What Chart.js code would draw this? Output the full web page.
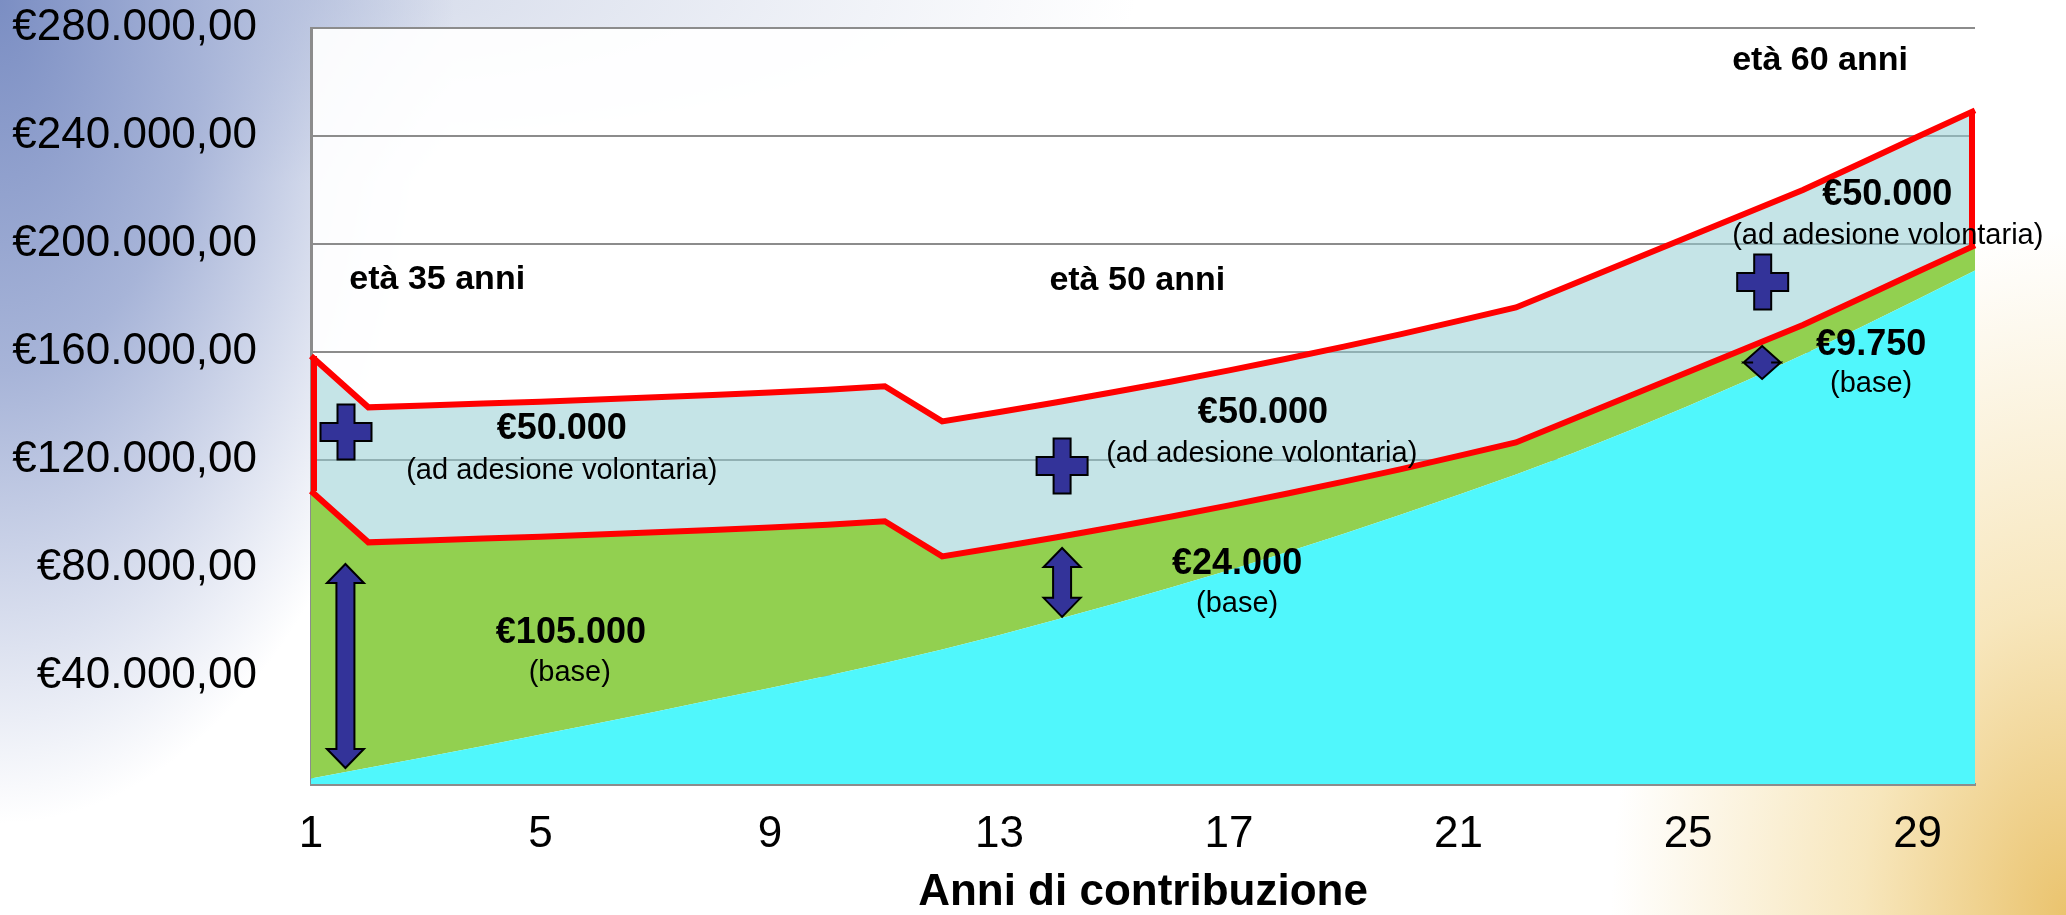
<!DOCTYPE html>
<html lang="it">
<head>
<meta charset="utf-8">
<title>Anni di contribuzione</title>
<script src="https://cdn.jsdelivr.net/npm/chart.js@4.4.1/dist/chart.umd.min.js"></script>
<style>
  html, body { margin: 0; padding: 0; }
  body {
    width: 2066px;
    height: 915px;
    overflow: hidden;
    background:
      radial-gradient(ellipse 22% 75% at 100% 100%, rgba(233,192,102,0.95) 0%, rgba(244,220,160,0.7) 45%, rgba(255,255,255,0) 100%),
      radial-gradient(ellipse 22% 90% at 0% 0%, #7b8ec3 0%, #a7b4d8 45%, rgba(255,255,255,0) 100%),
      radial-gradient(ellipse 40% 20% at 15% 0%, rgba(200,208,228,0.8) 0%, rgba(255,255,255,0) 100%),
      #ffffff;
  }
  canvas { display: block; }
</style>
</head>
<body>
<canvas id="grafico" width="2066" height="915"></canvas>
<script>
// anni di contribuzione (asse x)
const anni = ['1', '2', '3', '4', '5', '6', '7', '8', '9', '10',
              '11', '12', '13', '14', '15', '16', '17', '18', '19', '20',
              '21', '22', '23', '24', '25', '26', '27', '28', '29', '30'];
const tickAnni = ['1', '5', '9', '13', '17', '21', '25', '29'];

// area azzurra in basso
const capitale = [2000, 6000, 10000, 14100, 18300, 22500, 26800, 31200, 35600, 40100,
                  44800, 49800, 55200, 60900, 66800, 72900, 79200, 85800, 92700, 99800,
                  107100, 114600, 122600, 131100, 140000, 149300, 159000, 169100, 179500, 190200];
// quota base (verde)
const quotaBase = [106500, 83500, 80200, 76800, 73300, 69900, 66400, 62900, 59400, 55900,
                   52500, 34500, 32600, 30500, 28400, 26200, 24000, 21700, 19300, 16800,
                   14400, 11900, 12600, 12800, 12600, 12000, 11000, 10700, 10200, 9300];
// quota ad adesione volontaria
const quotaVolontaria = [50000, 50000, 50000, 50000, 50000, 50000, 50000, 50000, 50000, 50000,
                         50000, 50000, 50000, 50000, 50000, 50000, 50000, 50000, 50000, 50000,
                         50000, 50000, 50000, 50000, 50000, 50000, 50000, 50000, 50000, 50000];

// testi e simboli, in coordinate dei dati (anno, euro)
const note = [
  { testo: 'età 35 anni', anno: 3.2, valore: 186700, tipo: 'eta' },
  { testo: 'età 50 anni', anno: 15.4, valore: 186300, tipo: 'eta' },
  { testo: 'età 60 anni', anno: 27.3, valore: 267800, tipo: 'eta' },
  { testo: '€50.000', anno: 5.37, valore: 131500, tipo: 'importo' },
  { testo: '(ad adesione volontaria)', anno: 5.37, valore: 115900, tipo: 'nota' },
  { testo: '€105.000', anno: 5.53, valore: 55900, tipo: 'importo' },
  { testo: '(base)', anno: 5.51, valore: 41100, tipo: 'nota' },
  { testo: '€50.000', anno: 17.59, valore: 137400, tipo: 'importo' },
  { testo: '(ad adesione volontaria)', anno: 17.57, valore: 122200, tipo: 'nota' },
  { testo: '€24.000', anno: 17.14, valore: 81500, tipo: 'importo' },
  { testo: '(base)', anno: 17.14, valore: 66700, tipo: 'nota' },
  { testo: '€50.000', anno: 28.47, valore: 218100, tipo: 'importo' },
  { testo: '(ad adesione volontaria)', anno: 28.48, valore: 203000, tipo: 'nota' },
  { testo: '€9.750', anno: 28.19, valore: 162600, tipo: 'importo' },
  { testo: '(base)', anno: 28.19, valore: 148100, tipo: 'nota' }
];
const simboli = [
  { tipo: 'piu', anno: 1.61, valore: 130400 },
  { tipo: 'piu', anno: 14.09, valore: 117800 },
  { tipo: 'piu', anno: 26.3, valore: 185900 },
  { tipo: 'freccia', anno: 1.6, da: 81500, a: 5900 },
  { tipo: 'freccia', anno: 14.09, da: 87400, a: 61900 },
  { tipo: 'freccia', anno: 26.29, da: 162200, a: 150000 }
];

const FONT = '"Liberation Sans", Arial, sans-serif';
Chart.defaults.font.family = FONT;

function euro(v) {
  const s = String(Math.round(v)).replace(/\B(?=(\d{3})+(?!\d))/g, '.');
  return '€' + s + ',00';
}

const sfondoArea = {
  id: 'sfondoArea',
  beforeDraw(chart) {
    const { ctx, chartArea: a } = chart;
    ctx.save();
    ctx.fillStyle = 'rgba(255,255,255,0.92)';
    ctx.fillRect(a.left, a.top, a.right - a.left, a.bottom - a.top);
    ctx.restore();
  }
};

const bordiLaterali = {
  id: 'bordiLaterali',
  afterDatasetsDraw(chart) {
    const medio = chart.getDatasetMeta(1).data;
    const alto = chart.getDatasetMeta(2).data;
    const ctx = chart.ctx;
    ctx.save();
    ctx.strokeStyle = '#ff0000';
    ctx.lineWidth = 6;
    [[0, 3], [alto.length - 1, -3]].forEach(([i, dx]) => {
      ctx.beginPath();
      ctx.moveTo(alto[i].x + dx, alto[i].y);
      ctx.lineTo(medio[i].x + dx, medio[i].y);
      ctx.stroke();
    });
    ctx.restore();
  }
};

function disegnaPiu(ctx, cx, cy) {
  const w = 51, h = 55, t = 17, th = 18;
  const p = [
    [-t / 2, -h / 2], [t / 2, -h / 2], [t / 2, -th / 2], [w / 2, -th / 2],
    [w / 2, th / 2], [t / 2, th / 2], [t / 2, h / 2], [-t / 2, h / 2],
    [-t / 2, th / 2], [-w / 2, th / 2], [-w / 2, -th / 2], [-t / 2, -th / 2]
  ];
  ctx.beginPath();
  p.forEach(([dx, dy], i) => i ? ctx.lineTo(cx + dx, cy + dy) : ctx.moveTo(cx + dx, cy + dy));
  ctx.closePath();
  ctx.fill();
  ctx.stroke();
}

function disegnaFreccia(ctx, cx, y1, y2) {
  const sw = 9, hw = 18.5;
  const hh = Math.min(19, (y2 - y1) / 2);
  const p = [
    [cx, y1], [cx + hw, y1 + hh], [cx + sw, y1 + hh], [cx + sw, y2 - hh],
    [cx + hw, y2 - hh], [cx, y2], [cx - hw, y2 - hh], [cx - sw, y2 - hh],
    [cx - sw, y1 + hh], [cx - hw, y1 + hh]
  ];
  ctx.beginPath();
  p.forEach(([x, y], i) => i ? ctx.lineTo(x, y) : ctx.moveTo(x, y));
  ctx.closePath();
  ctx.fill();
  ctx.stroke();
}

const annotazioni = {
  id: 'annotazioni',
  afterDatasetsDraw(chart) {
    const { ctx, scales: { x, y } } = chart;
    ctx.save();
    ctx.fillStyle = '#333399';
    ctx.strokeStyle = '#000000';
    ctx.lineWidth = 2;
    ctx.lineJoin = 'miter';
    simboli.forEach(s => {
      const px = x.getPixelForValue(s.anno - 1);
      if (s.tipo === 'piu') {
        disegnaPiu(ctx, px, y.getPixelForValue(s.valore));
      } else {
        disegnaFreccia(ctx, px, y.getPixelForValue(s.da), y.getPixelForValue(s.a));
      }
    });
    ctx.fillStyle = '#000000';
    ctx.textAlign = 'center';
    ctx.textBaseline = 'middle';
    note.forEach(n => {
      if (n.tipo === 'eta') ctx.font = 'bold 34px ' + FONT;
      else if (n.tipo === 'importo') ctx.font = 'bold 36px ' + FONT;
      else ctx.font = '29px ' + FONT;
      ctx.fillText(n.testo, x.getPixelForValue(n.anno - 1), y.getPixelForValue(n.valore));
    });
    ctx.restore();
  }
};

new Chart(document.getElementById('grafico'), {
  type: 'line',
  data: {
    labels: anni,
    datasets: [
      {
        label: 'Capitale',
        data: capitale,
        backgroundColor: '#50f7fc',
        borderColor: 'rgba(0,0,0,0)',
        borderWidth: 1,
        fill: 'origin',
        pointRadius: 0,
        tension: 0
      },
      {
        label: 'Base',
        data: quotaBase,
        backgroundColor: '#92d050',
        borderColor: '#ff0000',
        borderWidth: 6,
        fill: '-1',
        pointRadius: 0,
        tension: 0
      },
      {
        label: 'Adesione volontaria',
        data: quotaVolontaria,
        backgroundColor: 'rgba(150,205,212,0.55)',
        borderColor: '#ff0000',
        borderWidth: 6,
        fill: '-1',
        pointRadius: 0,
        tension: 0
      }
    ]
  },
  options: {
    responsive: false,
    animation: false,
    layout: { padding: { top: 28, right: 91, bottom: 0, left: 0 } },
    plugins: {
      legend: { display: false },
      tooltip: { enabled: false }
    },
    scales: {
      x: {
        type: 'category',
        offset: false,
        grid: { display: false, drawTicks: false },
        border: { display: true, color: '#8c8c8c', width: 3 },
        ticks: {
          autoSkip: false,
          maxRotation: 0,
          padding: 24,
          color: '#000000',
          font: { size: 44 },
          callback: function (v) {
            const l = this.getLabelForValue(v);
            return tickAnni.includes(l) ? l : '';
          }
        },
        title: {
          display: true,
          text: 'Anni di contribuzione',
          color: '#000000',
          font: { size: 44, weight: 'bold', lineHeight: 1 },
          padding: 0
        },
        afterFit(scale) { scale.height = 131; }
      },
      y: {
        stacked: true,
        min: 0,
        max: 280000,
        grid: { color: '#8c8c8c', lineWidth: 2, drawTicks: false },
        border: { display: true, color: '#8c8c8c', width: 3 },
        ticks: {
          stepSize: 40000,
          padding: 54,
          color: '#000000',
          font: { size: 44 },
          callback: v => v === 0 ? '' : euro(v)
        },
        afterFit(scale) {
          scale.width = 311;
          scale.paddingTop = 0;
          scale.paddingBottom = 0;
        }
      }
    }
  },
  plugins: [sfondoArea, bordiLaterali, annotazioni]
});
</script>
</body>
</html>
